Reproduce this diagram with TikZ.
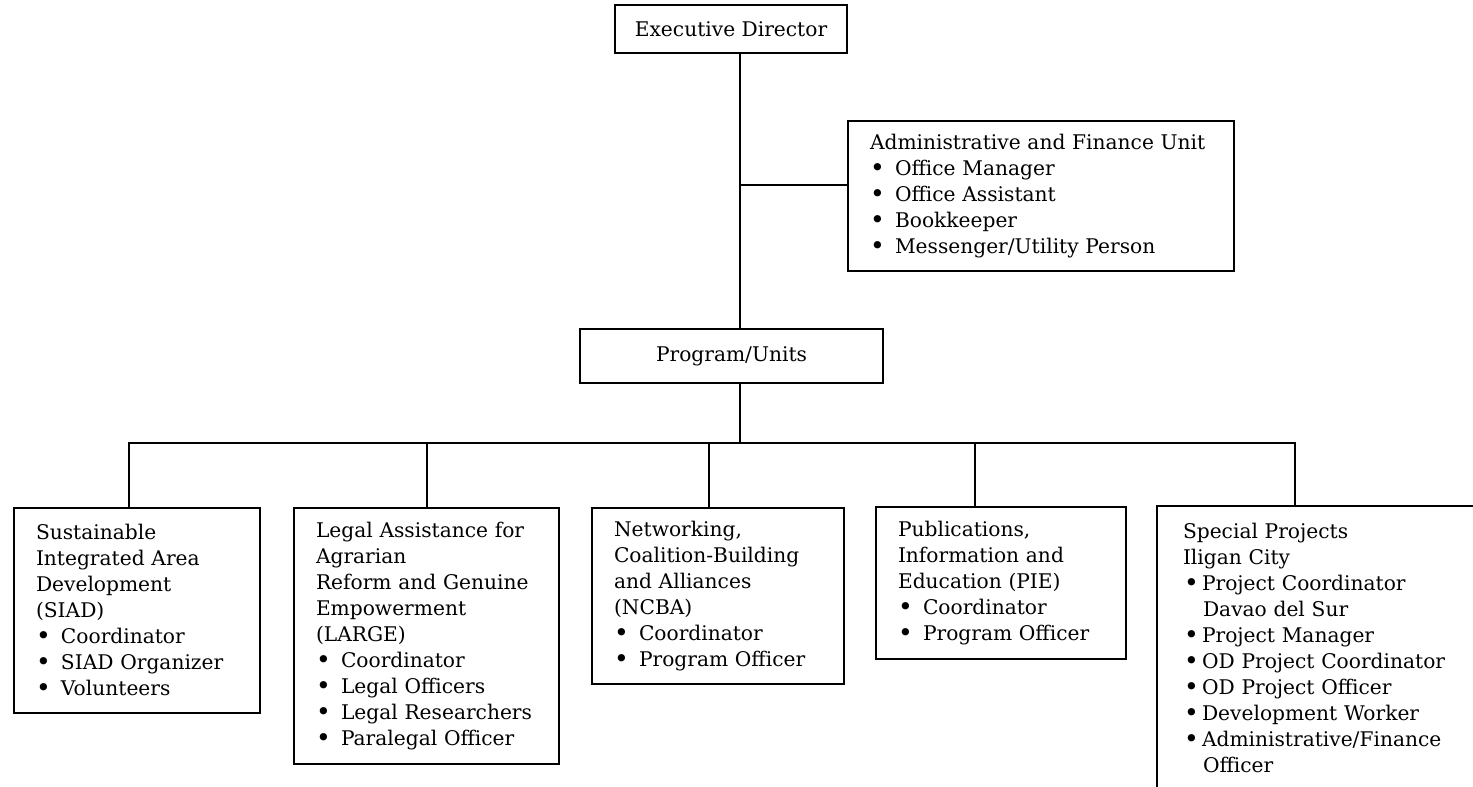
\documentclass[tikz,border=0pt]{standalone}
\usepackage{fontspec}
\setmainfont{DejaVu Serif}
\newcommand{\orgdot}{\raisebox{-0.7pt}{\fontsize{12.5}{13}\selectfont•}}
\newcommand{\orgitem}[1]{\makebox[12.5pt][l]{\orgdot}#1}
\newcommand{\orgsub}[1]{\makebox[9.5pt][l]{\hspace{0.6pt}\orgdot}#1}

\begin{document}
\begin{tikzpicture}[%
      x=0.5pt, y=-0.5pt,
      line width=1pt,
      every node/.style={font=\fontsize{10.1}{13}\selectfont},
      head/.style={draw, inner sep=0pt},
      unit/.style={draw, inner xsep=11pt, inner ysep=0pt, align=left, anchor=north west},
      ]
      \useasboundingbox (0,0) rectangle (1473,787);

      \node [head, minimum width=116pt, minimum height=24pt] (director) at (731,29) {Executive Director};
      \node [unit, text width=171pt, minimum height=75pt] (admin) at (847,120)
        {Administrative and Finance Unit\\
         \orgitem{Office Manager}\\
         \orgitem{Office Assistant}\\
         \orgitem{Bookkeeper}\\
         \orgitem{Messenger/Utility Person}};
      \node [head, minimum width=151.5pt, minimum height=27pt] (program) at (731.5,356) {Program/Units};

      \node [unit, text width=101pt, minimum height=102.5pt] (siad) at (13,507)
        {Sustainable\\ Integrated Area\\ Development\\ (SIAD)\\
         \orgitem{Coordinator}\\
         \orgitem{SIAD Organizer}\\
         \orgitem{Volunteers}};
      \node [unit, text width=110.5pt, minimum height=128pt] (large) at (293,507)
        {Legal Assistance for\\ Agrarian\\ Reform and Genuine\\ Empowerment\\ (LARGE)\\
         \orgitem{Coordinator}\\
         \orgitem{Legal Officers}\\
         \orgitem{Legal Researchers}\\
         \orgitem{Paralegal Officer}};
      \node [unit, text width=104pt, minimum height=88pt] (ncba) at (591,507)
        {Networking,\\ Coalition-Building\\ and Alliances\\ (NCBA)\\
         \orgitem{Coordinator}\\
         \orgitem{Program Officer}};
      \node [unit, text width=103pt, minimum height=76pt] (pie) at (875,506)
        {Publications,\\ Information and\\ Education (PIE)\\
         \orgitem{Coordinator}\\
         \orgitem{Program Officer}};
      \node [unit, draw=none, inner xsep=12.5pt, text width=140pt, minimum height=140.5pt] (special) at (1157,506)
        {Special Projects\\ Iligan City\\
         \orgsub{Project Coordinator}\\
         \hspace*{10pt}Davao del Sur\\
         \orgsub{Project Manager}\\
         \orgsub{OD Project Coordinator}\\
         \orgsub{OD Project Officer}\\
         \orgsub{Development Worker}\\
         \orgsub{Administrative/Finance}\\
         \hspace*{10pt}Officer};
      \draw (special.north east) -- (special.north west) -- (special.south west);

      \coordinate (adminjoin) at (740,185);
      \coordinate (trunk) at (740,443);
      \draw (director.south -| trunk) -- (program.north -| trunk);
      \draw (adminjoin) -- (adminjoin -| admin.west);
      \draw (program.south -| trunk) -- (trunk);
      \draw ([xshift=-4pt]siad.north) |- (trunk) -| ([xshift=-14pt]special.north);
      \draw (trunk -| large.north) -- (large.north);
      \draw (trunk -| ncba.north) ++(-4.5pt,0) -- ([xshift=-4.5pt]ncba.north);
      \draw (trunk -| pie.north) ++(-13pt,0) -- ([xshift=-13pt]pie.north);
\end{tikzpicture}
\end{document}
